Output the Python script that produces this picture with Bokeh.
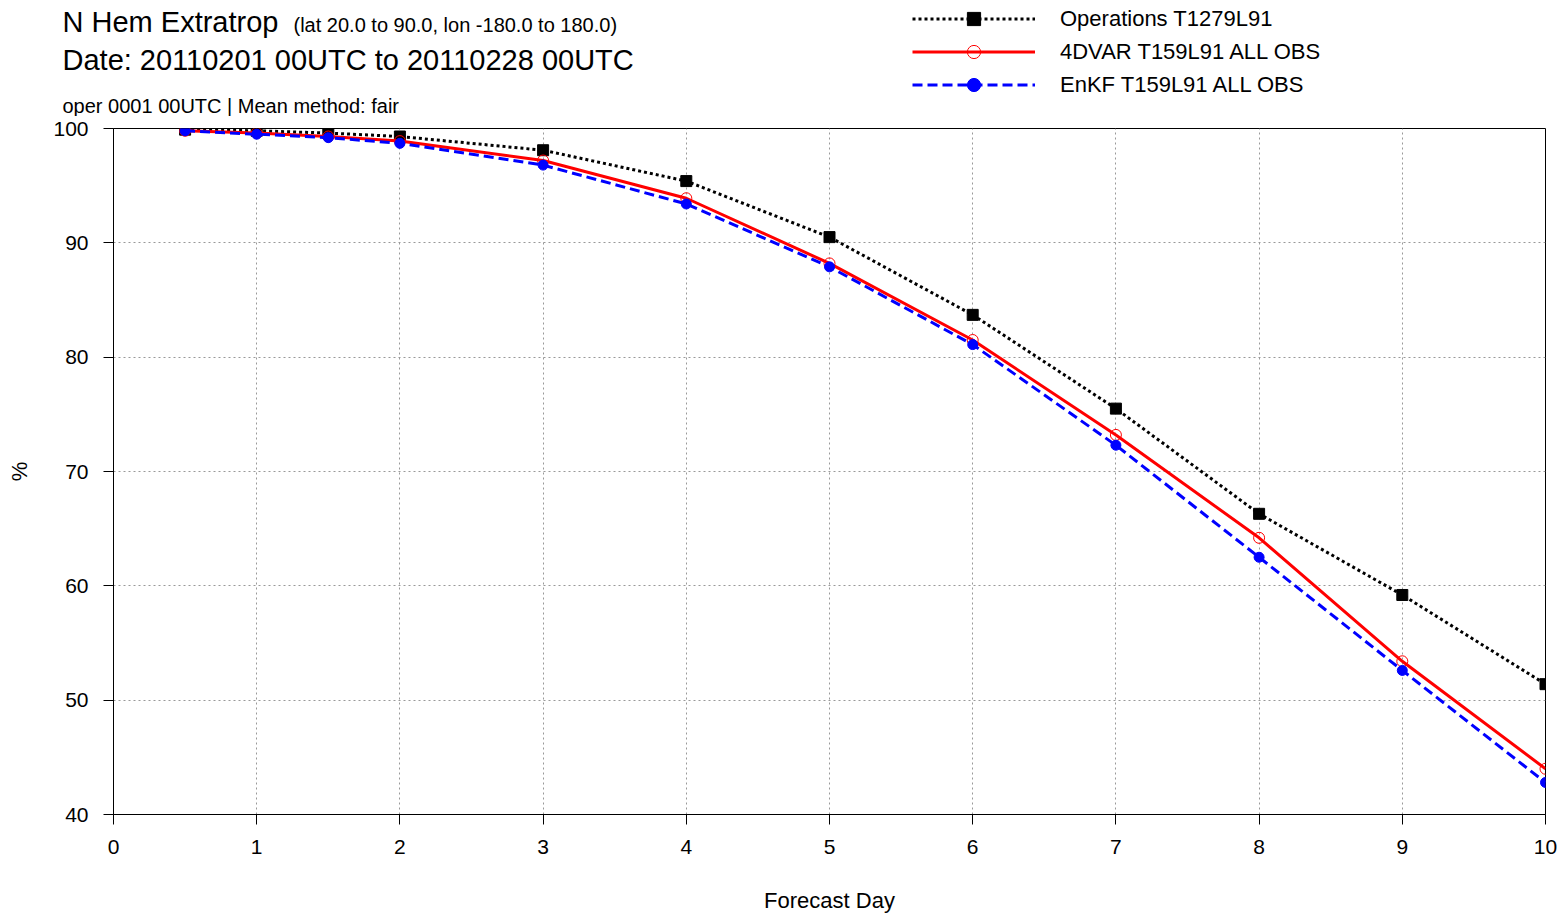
from bokeh.plotting import figure
from bokeh.models import Range1d, Legend, LegendItem, FixedTicker
from bokeh.layouts import column
from bokeh.core.properties import value
from bokeh.embed import file_html
from bokeh.resources import INLINE

days = [0.5, 1, 1.5, 2, 3, 4, 5, 6, 7, 8, 9, 10]
oper = [99.9, 99.8, 99.6, 99.3, 98.1, 95.4, 90.5, 83.7, 75.5, 66.3, 59.2, 51.4]
fdvar = [99.8, 99.6, 99.3, 98.9, 97.2, 93.9, 88.2, 81.5, 73.2, 64.2, 53.4, 44.0]
enkf = [99.8, 99.5, 99.2, 98.7, 96.8, 93.4, 87.9, 81.1, 72.3, 62.5, 52.6, 42.8]
names = ["Operations T1279L91", "4DVAR T159L91 ALL OBS", "EnKF T159L91 ALL OBS"]
x_ticks = list(range(0, 11))
y_ticks = [40, 50, 60, 70, 80, 90, 100]
title_main = "N Hem Extratrop"
title_area = "(lat  20.0 to 90.0, lon  -180.0 to  180.0)"
title_date = "Date: 20110201 00UTC to 20110228 00UTC"
title_info = "oper 0001 00UTC | Mean method: fair"

FONT = "Liberation Sans"
styles = [dict(line_color="black", line_width=3, line_dash="3 3"),
          dict(line_color="red", line_width=3),
          dict(line_color="blue", line_width=3, line_dash="10 5")]
markers = [dict(marker="square", size=11, fill_color="black", line_color="black"),
           dict(marker="circle", size=11, fill_color=None, line_color="red", line_width=1),
           dict(marker="circle", size=10, fill_color="blue", line_color="blue")]
series = [oper, fdvar, enkf]

# ---------------- header (titles + legend) ----------------
HH = 116
h = figure(width=1560, height=HH, output_backend="svg", toolbar_location=None,
           x_range=Range1d(0, 1560), y_range=Range1d(HH, 0),
           x_axis_type=None, y_axis_type=None, min_border=0)
h.outline_line_color = None
h.background_fill_color = "white"
h.border_fill_color = "white"

def txt(x, y, t, size):
    h.text(x=[x], y=[y], text=[t], text_font=value(FONT), text_font_size=value(size),
           text_color="black", text_baseline=value("middle"), text_align=value("left"))

txt(62, 21, title_main, "29px")
txt(293, 24, title_area, "20px")
txt(62, 59, title_date, "29px")
txt(62, 105, title_info, "20px")

h.extra_y_ranges = {"hid": Range1d(1000, 1001)}
items = []
for name, vals, st, mk in zip(names, series, styles, markers):
    rl = h.line(days, vals, y_range_name="hid", **st)
    rm = h.scatter(days, vals, y_range_name="hid", **mk)
    items.append(LegendItem(label=name, renderers=[rl, rm]))
legend = Legend(items=items, location=(912, 15), glyph_width=123, glyph_height=33,
                label_height=33, spacing=0, padding=0, margin=0, label_standoff=25,
                border_line_color=None, background_fill_alpha=0,
                label_text_font=FONT, label_text_font_size="22px",
                label_text_color="black")
h.add_layout(legend, "center")

# ---------------- main chart ----------------
p = figure(width=1560, height=915 - HH, output_backend="svg", toolbar_location=None,
           x_range=Range1d(0, 10), y_range=Range1d(40, 100),
           min_border_left=113, min_border_right=15, min_border_top=128 - HH,
           min_border_bottom=101)
p.outline_line_color = "black"
p.outline_line_width = 1
p.background_fill_color = "white"
p.border_fill_color = "white"

for ax in (p.xaxis[0], p.yaxis[0]):
    ax.major_label_text_font = FONT
    ax.major_label_text_color = "black"
    ax.axis_label_text_font = FONT
    ax.axis_label_text_font_size = "22px"
    ax.axis_label_text_font_style = "normal"
    ax.axis_label_text_color = "black"
    ax.axis_line_color = "black"
    ax.major_tick_line_color = "black"
    ax.minor_tick_line_color = None
    ax.major_tick_in = 0
    ax.major_tick_out = 10

p.xaxis.major_label_text_font_size = "21px"
p.yaxis.major_label_text_font_size = "21px"
p.xaxis.ticker = FixedTicker(ticks=x_ticks)
p.yaxis.ticker = FixedTicker(ticks=y_ticks)
p.xaxis.axis_label = "Forecast Day"
p.yaxis.axis_label = "%"
p.xaxis.major_label_standoff = 15
p.xaxis.axis_label_standoff = 31
p.yaxis.major_label_standoff = 15
p.yaxis.axis_label_standoff = 18

p.grid.grid_line_color = "#999999"
p.grid.grid_line_dash = "2 3"
p.grid.grid_line_width = 1

for vals, st, mk in zip(series, styles, markers):
    p.line(days, vals, **st)
    p.scatter(days, vals, **mk)

open("out.html", "w").write(file_html(column(column(h), p, spacing=0), INLINE))
